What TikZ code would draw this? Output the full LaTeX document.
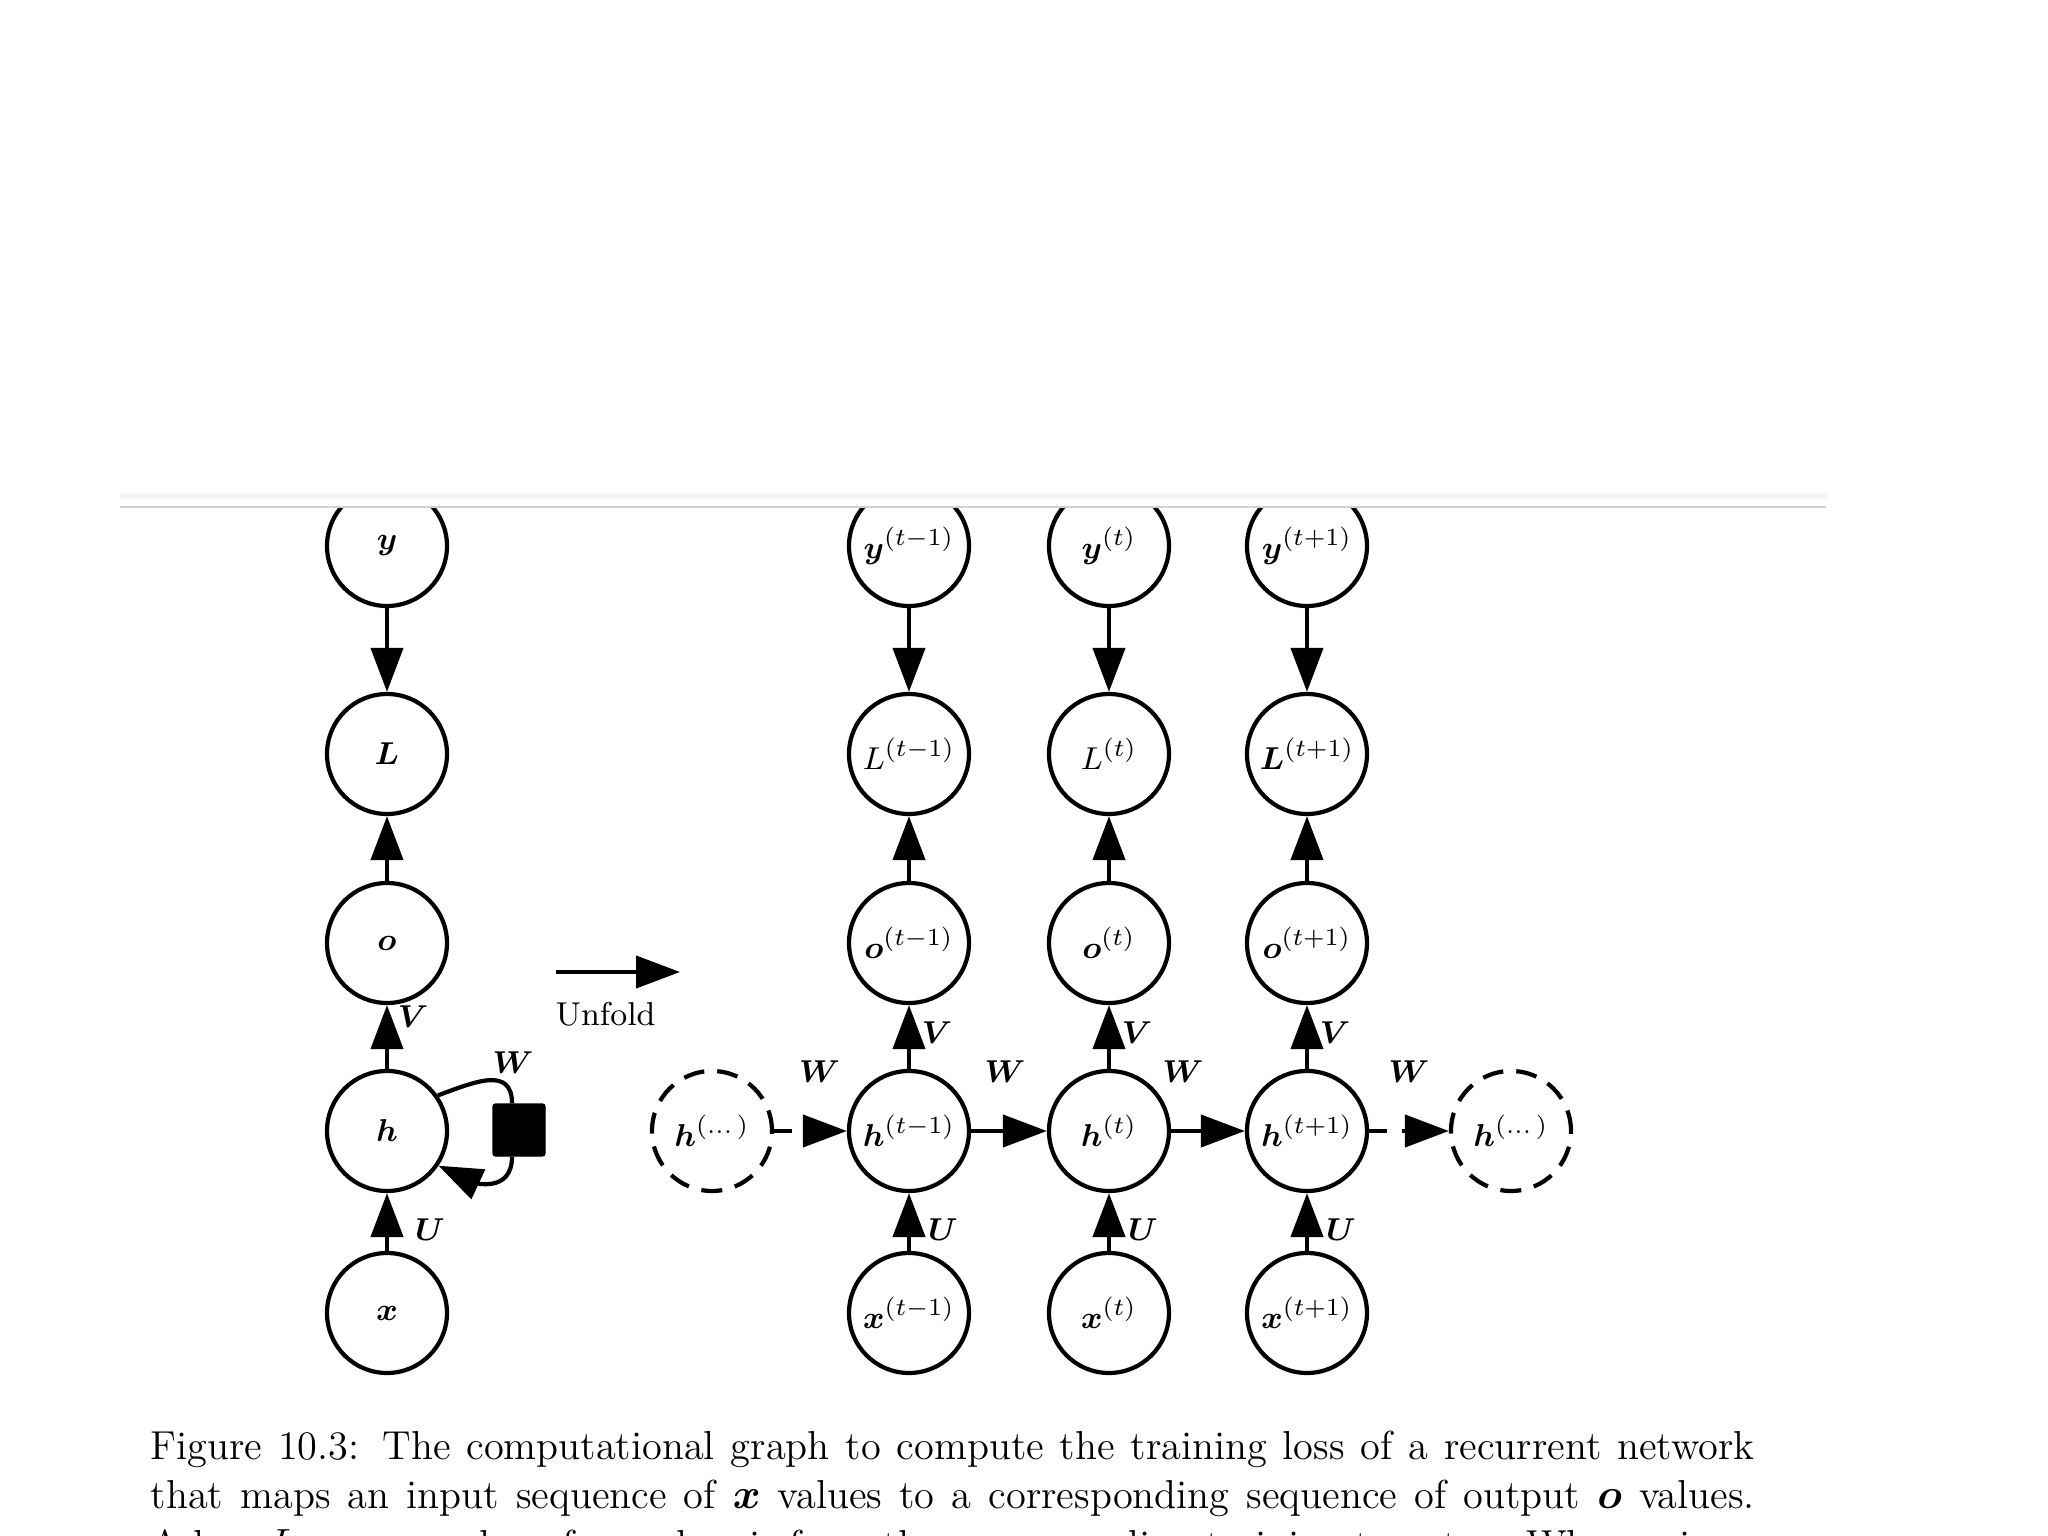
\documentclass[tikz,border=0pt]{standalone}
\usepackage{amsmath,amssymb,bm}
\usepackage{tikz}
\usetikzlibrary{arrows.meta,positioning,calc}

\begin{document}
\begin{tikzpicture}[
  var/.style={draw,circle,line width=1.2pt,minimum size=12mm,inner sep=0pt,font=\fontsize{9.4}{11}\selectfont},
  ghost/.style={var,dash pattern=on 2.1mm off 1.3mm},
  arr/.style={-{Triangle[length=4.4mm,width=3.2mm]},line width=1.2pt},
  darr/.style={arr,dash pattern=on 1.8mm off 1.5mm},
  wire/.style={line width=1.2pt},
  wt/.style={font=\fontsize{9.4}{11}\selectfont,inner sep=0pt}]
\useasboundingbox (0,0) rectangle (20.48,-15.36);
% page rule
\fill[black!4] (1.20,-4.93) rectangle (18.26,-4.99);
\draw[black!18,line width=0.7pt] (1.20,-5.07) -- (18.26,-5.07);
\begin{scope}
\clip (0,-5.09) rectangle (20.48,-15.36);
% folded graph
\node[var] (y) at (3.87,-5.46) {$\bm{y}$};
\node[var] (L) at (3.87,-7.54) {$\bm{L}$};
\node[var] (o) at (3.87,-9.43) {$\bm{o}$};
\node[var] (h) at (3.87,-11.31) {$\bm{h}$};
\node[var] (x) at (3.87,-13.13) {$\bm{x}$};
\node[draw,fill,minimum size=5.2mm,inner sep=0pt,rounded corners=0.8pt] (sq) at (5.19,-11.30) {};
\coordinate (sqin) at ($(sq.north)+(-0.07,0)$);
\coordinate (sqout) at ($(sq.south)+(-0.07,0)$);
\draw[arr] (y) -- (L);
\draw[arr] (o) -- (L);
\draw[arr] (h) -- node[wt,pos=0.82,xshift=2.6mm] {$\bm{V}$} (o);
\draw[arr] (x) -- node[wt,pos=0.37,xshift=4.3mm] {$\bm{U}$} (h);
\draw[wire] (h.35) to[out=20,in=90,looseness=1.3] (sqin);
\draw[arr] (sqout) to[out=-90,in=-25,looseness=1.3] (h.-34);
\node[wt] (wl) at (5.13,-10.63) {$\bm{W}$};
% unfold arrow
\coordinate (ufs) at (5.56,-9.72);
\coordinate (ufe) at (6.80,-9.72);
\draw[arr] (ufs) -- node[pos=0.4,below=2.8mm,inner sep=0pt,font=\fontsize{9.4}{11}\selectfont] {Unfold} (ufe);
% unfolded graph
\node[var] (y1) at (9.09,-5.46) {$\bm{y}^{(t-1)}$};
\node[var] (L1) at (9.09,-7.54) {$L^{(t-1)}$};
\node[var] (o1) at (9.09,-9.43) {$\bm{o}^{(t-1)}$};
\node[var] (h1) at (9.09,-11.31) {$\bm{h}^{(t-1)}$};
\node[var] (x1) at (9.09,-13.13) {$\bm{x}^{(t-1)}$};
\node[var] (y2) at (11.09,-5.46) {$\bm{y}^{(t)}$};
\node[var] (L2) at (11.09,-7.54) {$L^{(t)}$};
\node[var] (o2) at (11.09,-9.43) {$\bm{o}^{(t)}$};
\node[var] (h2) at (11.09,-11.31) {$\bm{h}^{(t)}$};
\node[var] (x2) at (11.09,-13.13) {$\bm{x}^{(t)}$};
\node[var] (y3) at (13.07,-5.46) {$\bm{y}^{(t+1)}$};
\node[var] (L3) at (13.07,-7.54) {$\bm{L}^{(t+1)}$};
\node[var] (o3) at (13.07,-9.43) {$\bm{o}^{(t+1)}$};
\node[var] (h3) at (13.07,-11.31) {$\bm{h}^{(t+1)}$};
\node[var] (x3) at (13.07,-13.13) {$\bm{x}^{(t+1)}$};
\node[ghost] (hl) at (7.12,-11.31) {$\bm{h}^{(\dots)}$};
\node[ghost] (hr) at (15.11,-11.31) {$\bm{h}^{(\dots)}$};
\draw[arr] (y1) -- (L1);
\draw[arr] (o1) -- (L1);
\draw[arr] (h1) -- node[wt,pos=0.57,xshift=2.8mm] {$\bm{V}$} (o1);
\draw[arr] (x1) -- node[wt,pos=0.37,xshift=3.4mm] {$\bm{U}$} (h1);
\draw[arr] (y2) -- (L2);
\draw[arr] (o2) -- (L2);
\draw[arr] (h2) -- node[wt,pos=0.57,xshift=2.8mm] {$\bm{V}$} (o2);
\draw[arr] (x2) -- node[wt,pos=0.37,xshift=3.4mm] {$\bm{U}$} (h2);
\draw[arr] (y3) -- (L3);
\draw[arr] (o3) -- (L3);
\draw[arr] (h3) -- node[wt,pos=0.57,xshift=2.8mm] {$\bm{V}$} (o3);
\draw[arr] (x3) -- node[wt,pos=0.37,xshift=3.4mm] {$\bm{U}$} (h3);
\draw[darr] (hl) -- node[wt,midway,yshift=5.9mm,xshift=0.9mm] {$\bm{W}$} (h1);
\draw[arr] (h1) -- node[wt,midway,yshift=5.9mm,xshift=-0.4mm] {$\bm{W}$} (h2);
\draw[arr] (h2) -- node[wt,midway,yshift=5.9mm,xshift=-2.5mm] {$\bm{W}$} (h3);
\draw[darr] (h3) -- node[wt,midway,yshift=5.9mm] {$\bm{W}$} (hr);
\end{scope}
% caption
\node[anchor=base west,inner sep=0pt,text width=16.04cm,align=justify,font=\fontsize{11.5}{14.1}\selectfont] (cap) at (1.50,-14.59)
  {Figure 10.3: The computational graph to compute the training loss of a recurrent network that maps an input sequence of $\bm{x}$ values to a corresponding sequence of output $\bm{o}$ values.\linebreak A loss $L$ measures how far each $\bm{o}$ is from the corresponding training target $\bm{y}$. When using};
\end{tikzpicture}
\end{document}
